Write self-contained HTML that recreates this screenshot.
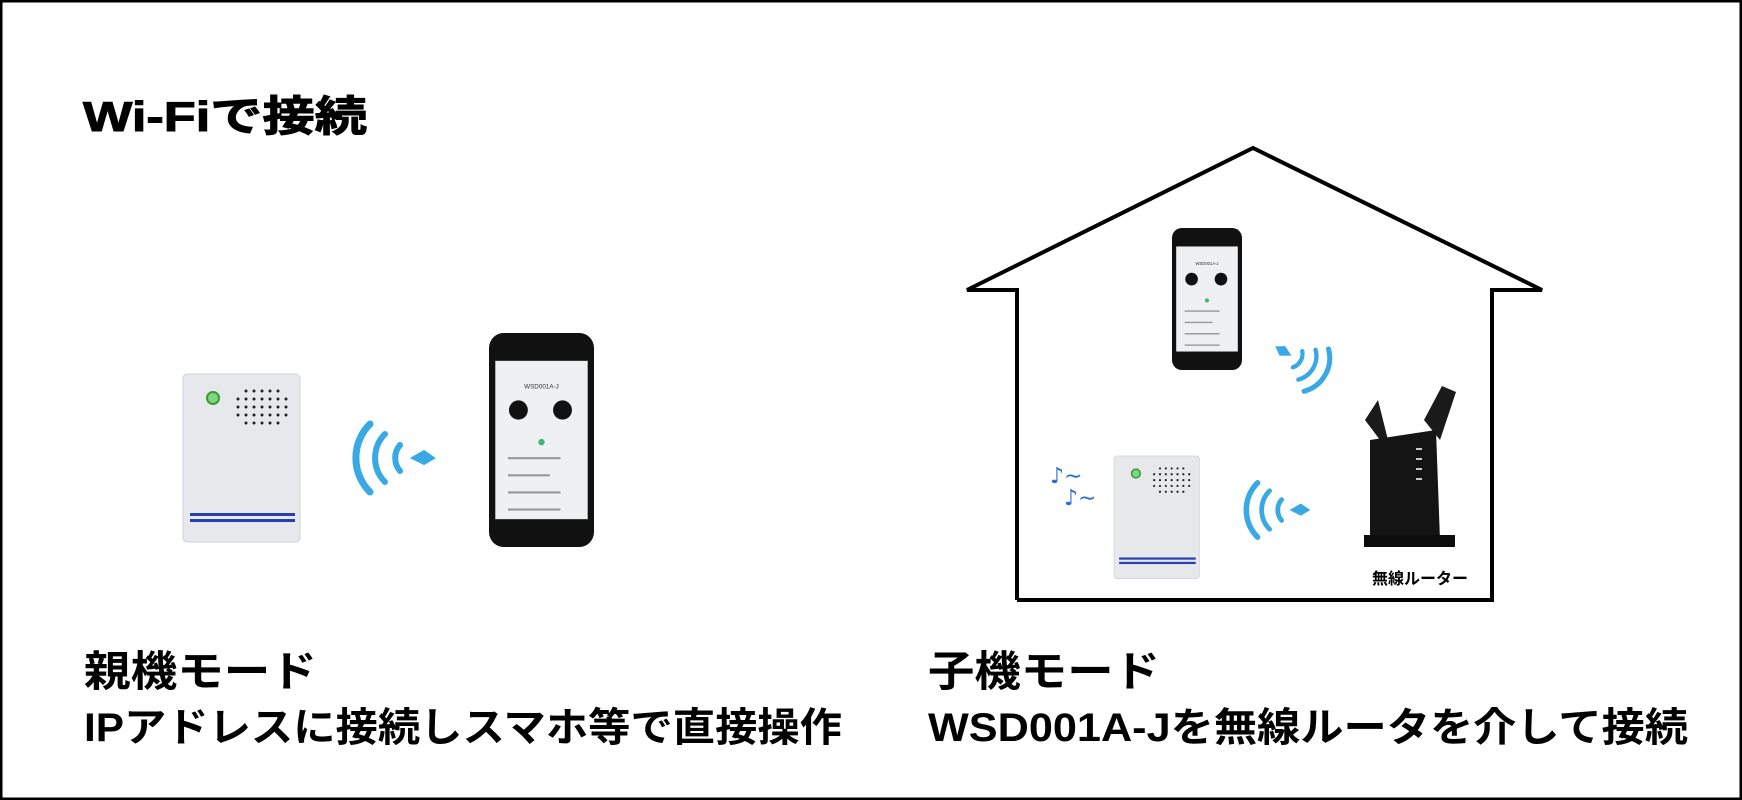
<!DOCTYPE html>
<html><head><meta charset="utf-8"><style>
html,body{margin:0;padding:0;background:#fff}
svg{display:block}
.t{font-family:"Liberation Sans","Noto Sans CJK JP",sans-serif;font-weight:bold;fill:#000}
</style></head><body>
<svg width="1742" height="800" viewBox="0 0 1742 800" xmlns="http://www.w3.org/2000/svg">
<rect x="1" y="1" width="1740" height="798" fill="#fff" stroke="#000" stroke-width="3"/>
<text class="t" x="83" y="131" font-size="42" textLength="284" lengthAdjust="spacingAndGlyphs" stroke="#000" stroke-width="1">Wi-Fiで接続</text>

<polyline points="1017,600 1017,290 967,290 1253,148 1542,290 1492,290 1492,600 1017,600" fill="none" stroke="#000" stroke-width="4" stroke-linejoin="miter"/>

<defs>
<g id="dev">
<rect x="0" y="0" width="117" height="168" rx="4" fill="#e6e8ec" stroke="#cfd3d8"/>
<circle cx="30" cy="24" r="6" fill="#7ed67e" stroke="#3a9a3a" stroke-width="2"/>
<g fill="#222">
<circle cx="63" cy="17" r="1.5"/><circle cx="71" cy="17" r="1.5"/><circle cx="79" cy="17" r="1.5"/><circle cx="87" cy="17" r="1.5"/><circle cx="95" cy="17" r="1.5"/>
<circle cx="55" cy="25" r="1.5"/><circle cx="63" cy="25" r="1.5"/><circle cx="71" cy="25" r="1.5"/><circle cx="79" cy="25" r="1.5"/><circle cx="87" cy="25" r="1.5"/><circle cx="95" cy="25" r="1.5"/><circle cx="103" cy="25" r="1.5"/>
<circle cx="55" cy="33" r="1.5"/><circle cx="63" cy="33" r="1.5"/><circle cx="71" cy="33" r="1.5"/><circle cx="79" cy="33" r="1.5"/><circle cx="87" cy="33" r="1.5"/><circle cx="95" cy="33" r="1.5"/><circle cx="103" cy="33" r="1.5"/>
<circle cx="55" cy="41" r="1.5"/><circle cx="63" cy="41" r="1.5"/><circle cx="71" cy="41" r="1.5"/><circle cx="79" cy="41" r="1.5"/><circle cx="87" cy="41" r="1.5"/><circle cx="95" cy="41" r="1.5"/><circle cx="103" cy="41" r="1.5"/>
<circle cx="63" cy="49" r="1.5"/><circle cx="71" cy="49" r="1.5"/><circle cx="79" cy="49" r="1.5"/><circle cx="87" cy="49" r="1.5"/><circle cx="95" cy="49" r="1.5"/>
</g>
<rect x="7" y="139" width="105" height="3" fill="#2a3fae"/>
<rect x="7" y="145" width="105" height="3" fill="#2a3fae"/>
</g>
<g id="phone">
<rect x="0" y="0" width="100" height="200" rx="14" fill="#111"/>
<rect x="6" y="26" width="88" height="148" fill="#eef0f2"/>
<text x="50" y="52" font-size="6" text-anchor="middle" font-family="Liberation Sans" fill="#333">WSD001A-J</text>
<circle cx="28" cy="72" r="9" fill="#111"/><circle cx="70" cy="72" r="9" fill="#111"/>
<circle cx="50" cy="102" r="3" fill="#3cb878"/>
<g fill="#999"><rect x="18" y="116" width="50" height="2"/><rect x="18" y="132" width="40" height="2"/><rect x="18" y="148" width="50" height="2"/><rect x="18" y="164" width="50" height="2"/></g>
</g>
<g id="wifi" fill="none" stroke="#38a9e4" stroke-linecap="round">
<path d="M22,-34 A48,48 0 0 0 22,34" stroke-width="7"/>
<path d="M37,-24 A34,34 0 0 0 37,24" stroke-width="6"/>
<path d="M52,-13 A20,20 0 0 0 52,13" stroke-width="6"/>
<path d="M64,0 L76,-7 L86,0 L76,6 Z" fill="#38a9e4" stroke-width="2"/>
</g>
</defs>

<use href="#dev" x="183" y="374"/>
<use href="#wifi" transform="translate(348,458)"/>
<use href="#phone" transform="translate(489,333) scale(1.05,1.07)"/>

<use href="#phone" transform="translate(1172,228) scale(0.7,0.71)"/>
<use href="#wifi" transform="translate(1330,378) rotate(210) scale(0.72)"/>
<use href="#dev" transform="translate(1114,456) scale(0.73,0.73)"/>
<use href="#wifi" transform="translate(1240,510) scale(0.8)"/>
<text x="1050" y="483" font-size="22" fill="#2a6fcf" font-family="DejaVu Sans">♪∼</text>
<text x="1064" y="505" font-size="22" fill="#2a6fcf" font-family="DejaVu Sans">♪∼</text>

<polygon points="1365,420 1378,400 1388,440 1380,440" fill="#1a1a1a"/>
<polygon points="1424,420 1442,386 1456,392 1440,440" fill="#1a1a1a"/>
<path d="M1370,440 L1436,430 L1440,540 L1370,540 Z" fill="#141414"/>
<rect x="1364" y="535" width="91" height="12" fill="#0c0c0c"/>
<g fill="#ccc"><rect x="1416" y="448" width="6" height="2"/><rect x="1416" y="458" width="6" height="2"/><rect x="1416" y="468" width="6" height="2"/><rect x="1416" y="478" width="6" height="2"/></g>
<text class="t" x="1372" y="584" font-size="16">無線ルーター</text>

<text class="t" x="84" y="686" font-size="42" textLength="233" lengthAdjust="spacingAndGlyphs">親機モード</text>
<text class="t" x="84" y="741" font-size="40" textLength="758" lengthAdjust="spacingAndGlyphs">IPアドレスに接続しスマホ等で直接操作</text>
<text class="t" x="928" y="686" font-size="42" textLength="232" lengthAdjust="spacingAndGlyphs">子機モード</text>
<text class="t" x="928" y="741" font-size="40" textLength="760" lengthAdjust="spacingAndGlyphs">WSD001A-Jを無線ルータを介して接続</text>
</svg>
</body></html>
